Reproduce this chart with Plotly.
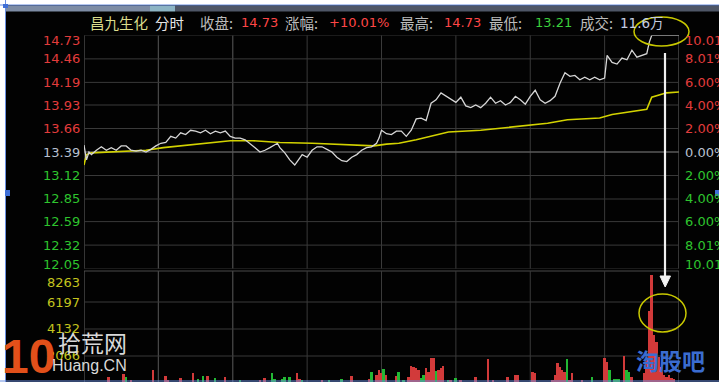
import plotly.graph_objects as go

W, H = 719, 382

# ---------------- data ----------------
price_levels = [14.73, 14.46, 14.19, 13.93, 13.66, 13.39, 13.12, 12.85, 12.59, 12.32, 12.05]
pct_labels = ["10.01%", "8.01%", "6.00%", "4.00%", "2.00%", "0.00%",
              "2.00%", "4.00%", "6.00%", "8.01%", "10.01%"]
pre_close = 13.39
vol_levels = [8263, 6197, 4132, 2066]

price_t = [0, 1, 2, 3, 5, 7, 9, 11, 13, 15, 17, 19, 21, 23, 25, 27, 29, 31, 33, 35,
           37, 39, 41, 43, 45, 47, 49, 51, 53, 55, 57, 59, 61, 63, 65, 67, 69, 71, 73, 75,
           77, 78, 79, 81, 83, 85, 86, 88, 90, 92, 94, 96, 98, 100, 102, 104, 106, 108, 110, 112,
           114, 116, 118, 119, 120, 122, 124, 126, 128, 130, 132, 134, 136, 138, 140, 142, 144, 146, 148, 150,
           152, 154, 156, 158, 160, 162, 164, 166, 168, 170, 172, 174, 176, 178, 180, 182, 184, 186, 188, 190,
           192, 194, 196, 198, 200, 202, 204, 206, 208, 210, 211, 213, 215, 217, 219, 221, 223, 225, 227, 228,
           229, 232, 235, 238, 240]
price_v = [13.47, 13.30, 13.39, 13.36, 13.41, 13.45, 13.41, 13.44, 13.41, 13.46, 13.46, 13.41, 13.40, 13.41, 13.39, 13.42, 13.46, 13.49, 13.50, 13.57,
           13.55, 13.61, 13.59, 13.64, 13.63, 13.61, 13.64, 13.60, 13.63, 13.61, 13.63, 13.57, 13.55, 13.55, 13.53, 13.49, 13.44, 13.39, 13.41, 13.44,
           13.47, 13.49, 13.44, 13.38, 13.30, 13.24, 13.28, 13.36, 13.33, 13.41, 13.45, 13.45, 13.42, 13.39, 13.33, 13.29, 13.28, 13.33, 13.36, 13.41,
           13.44, 13.45, 13.49, 13.55, 13.64, 13.60, 13.59, 13.63, 13.63, 13.57, 13.64, 13.77, 13.78, 13.75, 13.95, 13.99, 14.07, 14.03, 13.99, 13.96,
           14.02, 13.92, 13.90, 13.93, 13.90, 13.95, 14.02, 13.95, 13.98, 13.93, 13.96, 14.03, 13.99, 13.94, 14.03, 14.10, 13.99, 13.95, 13.98, 14.03,
           14.18, 14.30, 14.26, 14.27, 14.22, 14.25, 14.22, 14.25, 14.22, 14.24, 14.50, 14.42, 14.40, 14.47, 14.45, 14.56, 14.48, 14.50, 14.52, 14.65,
           14.73, 14.73, 14.73, 14.73, 14.73]

avg_t = [0, 1, 3, 10, 25, 32, 39, 50, 59, 68, 79, 92, 106, 117, 122, 127, 134, 147, 160, 174,
         187, 195, 208, 213, 227, 229, 235, 240]
avg_v = [13.24, 13.36, 13.38, 13.39, 13.41, 13.44, 13.46, 13.49, 13.52, 13.52, 13.50, 13.49, 13.47, 13.46, 13.48, 13.49, 13.53, 13.62, 13.64, 13.68,
         13.72, 13.76, 13.78, 13.82, 13.88, 14.02, 14.07, 14.08]

vol_t = [10, 16, 17, 19, 28, 33, 34, 39, 44, 46, 48, 50, 53, 57, 63, 71, 73, 76, 77, 80,
         81, 83, 86, 87, 88, 96, 99, 104, 108, 115, 116, 118, 119, 120, 121, 122, 126, 127, 129, 131,
         132, 133, 134, 135, 136, 137, 138, 139, 140, 141, 142, 143, 144, 145, 147, 148, 150, 152, 158, 163,
         165, 171, 174, 175, 181, 182, 189, 190, 191, 192, 193, 194, 195, 196, 197, 201, 205, 210, 211, 212,
         214, 215, 216, 218, 219, 220, 221, 226, 227, 228, 229, 230, 231, 232, 233, 234, 235, 236, 237, 238]
vol_v = [460, 690, 460, 250, 1000, 535, 250, 380, 765, 300, 535, 535, 380, 460, 250, 250, 380, 765, 300, 300,
         460, 460, 765, 300, 250, 250, 250, 300, 535, 300, 840, 610, 1000, 765, 1100, 610, 535, 840, 250, 460,
         1300, 1224, 1150, 1000, 380, 610, 1150, 840, 1913, 1913, 918, 1000, 1150, 1300, 250, 250, 380, 250, 460, 1836,
         250, 460, 610, 610, 840, 765, 250, 610, 1530, 1224, 1000, 840, 1836, 250, 765, 250, 460, 1913, 1600, 1000,
         300, 300, 300, 2066, 1000, 840, 460, 765, 1760, 5500, 8300, 3670, 3140, 1990, 1200, 600, 450, 600, 400, 300]
vol_dir = ["r", "r", "g", "r", "r", "r", "r", "r", "r", "g", "g", "r", "g", "r", "g", "r", "r", "g", "g", "g",
           "g", "g", "r", "r", "g", "r", "g", "g", "r", "r", "g", "r", "r", "r", "g", "r", "r", "g", "g", "r",
           "r", "r", "r", "r", "g", "g", "r", "r", "r", "r", "g", "r", "r", "r", "g", "r", "g", "r", "r", "r",
           "r", "r", "r", "r", "r", "r", "r", "r", "r", "r", "r", "r", "g", "r", "r", "r", "g", "r", "r", "g",
           "g", "g", "g", "r", "g", "g", "r", "r", "r", "r", "r", "r", "r", "r", "r", "r", "r", "r", "r", "r"]

title_parts = [("昌九生化", 88, "#dcdc8c", "cjk"), ("分时", 153, "#e6e6e6", "cjk"),
               ("收盘:", 198, "#bcbcbc", "cjk"), ("14.73", 239, "#ff4646", "num"),
               ("涨幅:", 283, "#bcbcbc", "cjk"), ("+10.01%", 327, "#ff4646", "num"),
               ("最高:", 398, "#bcbcbc", "cjk"), ("14.73", 442, "#ff4646", "num"),
               ("最低:", 487, "#bcbcbc", "cjk"), ("13.21", 533, "#3cd03c", "num"),
               ("成交:", 578, "#bcbcbc", "cjk"), ("11.6万", 618, "#c4cce0", "mix")]

# ---------------- helpers ----------------
def px(x):
    return x / W

def py(y):
    return (H - y) / H

RED, GREEN, NEUTRAL = "#e23c3c", "#2ec42e", "#b8c0d0"
GRID = "#3a3a3a"
NUMFONT = "DejaVu Sans"
CJK = "Noto Sans CJK SC"

fig = go.Figure()
fig.add_trace(go.Bar(x=vol_t, y=vol_v, xaxis="x2", yaxis="y2", width=0.8,
                     marker=dict(color=["#d23a3a" if d == "r" else "#22b834" for d in vol_dir],
                                 line=dict(width=0)), showlegend=False))
fig.add_trace(go.Scatter(x=avg_t, y=avg_v, mode="lines", line=dict(color="#d2d200", width=1.6),
                         showlegend=False, hoverinfo="skip"))
fig.add_trace(go.Scatter(x=price_t, y=price_v, mode="lines", line=dict(color="#d6d6d6", width=1.3),
                         showlegend=False, hoverinfo="skip"))

shapes = []
# page decorations
shapes.append(dict(type="rect", xref="paper", yref="paper", x0=0, x1=1, y0=py(5), y1=1,
                   fillcolor="white", line_width=0, layer="below"))
shapes.append(dict(type="rect", xref="paper", yref="paper", x0=0, x1=px(5), y0=0, y1=1,
                   fillcolor="white", line_width=0, layer="below"))
shapes.append(dict(type="rect", xref="paper", yref="paper", x0=px(6), x1=px(150), y0=py(11.5), y1=py(5.5),
                   fillcolor="#7d8ca4", line_width=0, layer="below"))
shapes.append(dict(type="rect", xref="paper", yref="paper", x0=px(150), x1=px(175), y0=py(11.5), y1=py(5.5),
                   fillcolor="#8cb4c4", line_width=0, layer="below"))
shapes.append(dict(type="rect", xref="paper", yref="paper", x0=px(175), x1=1, y0=py(11.5), y1=py(5.5),
                   fillcolor="#4e5666", line_width=0, layer="below"))
for seg in [((0, 5), (719, 5)), ((5.5, 0), (5.5, 382)), ((0, 381), (719, 381))]:
    (xa, ya), (xb, yb) = seg
    shapes.append(dict(type="line", xref="paper", yref="paper", x0=px(xa), y0=py(ya), x1=px(xb), y1=py(yb),
                       line=dict(color="#6a8fe0", width=1)))
for (xa, ya, xb, yb) in [(3, 4, 8, 8), (5, 190, 10, 196), (715, 190, 719, 196)]:
    shapes.append(dict(type="rect", xref="paper", yref="paper", x0=px(xa), x1=px(xb), y0=py(yb), y1=py(ya),
                       fillcolor="#3f6fd6", line_width=0))

# grid lines
for p in price_levels:
    if p == pre_close:
        shapes.append(dict(type="line", xref="x", yref="y", x0=0, x1=240, y0=p, y1=p,
                           line=dict(color="#5a5a5a", width=1.5), layer="below"))
    else:
        shapes.append(dict(type="line", xref="x", yref="y", x0=0, x1=240, y0=p, y1=p,
                           line=dict(color=GRID, width=1), layer="below"))
for v in vol_levels[1:]:
    shapes.append(dict(type="line", xref="x2", yref="y2", x0=0, x1=240, y0=v, y1=v,
                       line=dict(color=GRID, width=1), layer="below"))
shapes.append(dict(type="line", xref="x2", yref="y2 domain", x0=0, x1=240, y0=1, y1=1,
                   line=dict(color="#4a4a4a", width=1), layer="below"))
for t in range(30, 240, 30):
    solid = t in (30, 60)
    for yr in ("y domain", "y2 domain"):
        shapes.append(dict(type="line", xref="x", yref=yr, x0=t, x1=t, y0=0, y1=1,
                           line=dict(color="#464646" if solid else GRID, width=1.3 if solid else 1),
                           layer="below"))
for t in (0, 240):
    for yr in ("y domain", "y2 domain"):
        shapes.append(dict(type="line", xref="x", yref=yr, x0=t, x1=t, y0=0, y1=1,
                           line=dict(color="#5a5a5a", width=1.2), layer="below"))

# annotation marks: ellipses and arrow
shapes.append(dict(type="circle", xref="paper", yref="paper", x0=px(634), x1=px(689), y0=py(46), y1=py(17),
                   line=dict(color="#c8c800", width=1.5)))
shapes.append(dict(type="circle", xref="paper", yref="paper", x0=px(639), x1=px(686), y0=py(332), y1=py(294),
                   line=dict(color="#c8c800", width=1.5)))
shapes.append(dict(type="line", xref="paper", yref="paper", x0=px(665), x1=px(665), y0=py(53), y1=py(278),
                   line=dict(color="#f0f0f0", width=2.2)))
shapes.append(dict(type="path", xref="paper", yref="paper",
                   path=f"M {px(660)},{py(276)} L {px(670.5)},{py(276)} L {px(665.2)},{py(287)} Z",
                   fillcolor="#f4f4f4", line=dict(color="#f4f4f4", width=1)))

annotations = []
n = len(price_levels)
for i, (p, lab) in enumerate(zip(price_levels, pct_labels)):
    col = RED if p > pre_close else (GREEN if p < pre_close else NEUTRAL)
    ys = -5 if i == 0 else (4 if i == n - 1 else 0)
    annotations.append(dict(text=f"{p:.2f}", xref="paper", yref="y", x=px(82), y=p, xanchor="right",
                            yanchor="middle", showarrow=False, yshift=ys,
                            font=dict(family=NUMFONT, size=13, color=col)))
    annotations.append(dict(text=lab, xref="paper", yref="y", x=px(683), y=p, xanchor="left",
                            yanchor="middle", showarrow=False, yshift=ys,
                            font=dict(family=NUMFONT, size=13, color=col)))
for i, v in enumerate(vol_levels):
    annotations.append(dict(text=str(v), xref="paper", yref="y2", x=px(82), y=v, xanchor="right",
                            yanchor="middle", showarrow=False, yshift=-7 if i == 0 else 0,
                            font=dict(family=NUMFONT, size=13, color="#c4c41e")))
for txt, x0, col, kind in title_parts:
    if kind == "num":
        f = dict(family=NUMFONT, size=13, color=col)
    elif kind == "mix":
        f = dict(family=NUMFONT + ", " + CJK, size=13.5, color=col)
    else:
        f = dict(family=CJK, size=14.5, color=col)
    annotations.append(dict(text=txt, xref="paper", yref="paper", x=px(x0), y=py(23), xanchor="left",
                            yanchor="middle", showarrow=False, font=f))

# watermarks
annotations.append(dict(text="<b>10</b>", xref="paper", yref="paper", x=px(29), y=py(356), xanchor="center",
                        yanchor="middle", showarrow=False,
                        font=dict(family="Liberation Sans", size=48, color="#e2501a")))
annotations.append(dict(text="拾荒网", xref="paper", yref="paper", x=px(92), y=py(342), xanchor="center",
                        yanchor="middle", showarrow=False, font=dict(family=CJK, size=23, color="#d8d8d8")))
annotations.append(dict(text="Huang.CN", xref="paper", yref="paper", x=px(89), y=py(365), xanchor="center",
                        yanchor="middle", showarrow=False,
                        font=dict(family="Liberation Sans", size=16, color="#d8d8d8")))
annotations.append(dict(text="<b>淘股吧</b>", xref="paper", yref="paper", x=px(670), y=py(360),
                        xanchor="center", yanchor="middle", showarrow=False,
                        font=dict(family=CJK, size=23, color="#3a6cd0")))

xdom = [px(84), px(679)]
fig.update_layout(
    width=W, height=H, margin=dict(l=0, r=0, t=0, b=0),
    paper_bgcolor="#020202", plot_bgcolor="rgba(0,0,0,0)",
    showlegend=False, bargap=0,
    xaxis=dict(domain=xdom, range=[0, 240], anchor="y", showgrid=False, zeroline=False,
               showticklabels=False, ticks=""),
    yaxis=dict(domain=[py(268.6), py(35.4)], range=[12.05, 14.73], showgrid=False, zeroline=False,
               showticklabels=False, ticks=""),
    xaxis2=dict(domain=xdom, range=[0, 240], anchor="y2", matches="x", showgrid=False, zeroline=False,
                showticklabels=False, ticks=""),
    yaxis2=dict(domain=[0, py(271)], range=[76, 8569], anchor="x2", showgrid=False, zeroline=False,
                showticklabels=False, ticks=""),
    shapes=shapes, annotations=annotations,
)

fig.write_html("out.html")
